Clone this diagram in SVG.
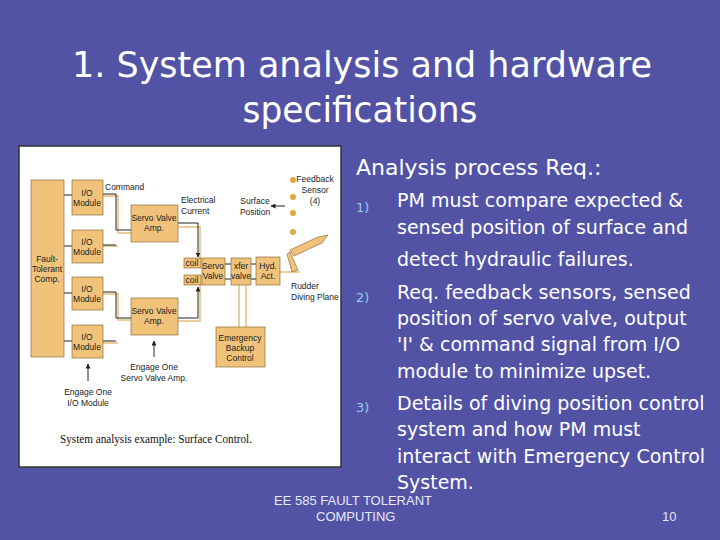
<svg xmlns="http://www.w3.org/2000/svg" width="720" height="540" viewBox="0 0 720 540">
<defs>
<style>
.t{font-family:"DejaVu Sans",Verdana,sans-serif;fill:#fff}
.n{font-family:"DejaVu Sans",sans-serif;fill:#8fd0e8;font-size:13px}
.f{font-family:"Liberation Sans",Arial,sans-serif;fill:#e8e8f8;font-size:13px}
.b{fill:#f0c27a;stroke:#7a5a2a;stroke-width:0.6}
.d{font-family:"Liberation Sans",Arial,sans-serif;font-size:8.5px;fill:#222;text-anchor:middle}
.w{stroke:#222;stroke-width:1;fill:none}
.s{stroke:#e9cf9a;stroke-width:2;fill:none}
</style>
<marker id="ar" viewBox="0 0 10 10" refX="9" refY="5" markerWidth="5" markerHeight="5" orient="auto"><path d="M0,0L10,5L0,10z" fill="#222"/></marker>
</defs>
<rect width="720" height="540" fill="#5353a6"/>
<g id="title" class="t" font-size="36" text-anchor="middle">
<text x="362" y="77" textLength="580" lengthAdjust="spacingAndGlyphs">1. System analysis and hardware</text>
<text x="360" y="122" textLength="235" lengthAdjust="spacingAndGlyphs">specifications</text>
</g>
<g id="figure">
<rect x="19" y="146" width="322" height="321" fill="#fff" stroke="#333" stroke-width="1.5"/>
<g id="connectors">
<path class="s" d="M103,196H118V233H131M103,246H118M103,294H118V320H131M103,343H118M178,227H200V258M178,321H200V285M280,272H300"/>
<path class="w" d="M103,194H116V230H131M103,245H116M103,292H116V318H131M103,341H116M64,195H72M64,246H72M64,293H72M64,341H72"/>
<path class="w" d="M178,223H198V257" marker-end="url(#ar)"/>
<path class="w" d="M178,318H198V287" marker-end="url(#ar)"/>
<path class="w" d="M225,264H231M225,279H231M251,264H256M251,279H256"/>
<path class="s" d="M239,285V327M246,285V327"/>
<path class="w" d="M285,206H271" marker-end="url(#ar)"/>
<path class="w" d="M154,357V341" marker-end="url(#ar)"/>
<path class="w" d="M88,381V364" marker-end="url(#ar)"/>
</g>
<g id="ftc"><rect class="b" x="31" y="180" width="33" height="177"/><text class="d" x="47" y="262">Fault-</text><text class="d" x="47" y="272">Tolerant</text><text class="d" x="47" y="282">Comp.</text></g>
<g id="io1"><rect class="b" x="72" y="180" width="31" height="35"/><text class="d" x="87" y="196">I/O</text><text class="d" x="87" y="206">Module</text></g>
<g id="io2"><rect class="b" x="72" y="230" width="31" height="33"/><text class="d" x="87" y="245">I/O</text><text class="d" x="87" y="255">Module</text></g>
<g id="io3"><rect class="b" x="72" y="277" width="31" height="33"/><text class="d" x="87" y="292">I/O</text><text class="d" x="87" y="302">Module</text></g>
<g id="io4"><rect class="b" x="72" y="325" width="31" height="33"/><text class="d" x="87" y="340">I/O</text><text class="d" x="87" y="350">Module</text></g>
<g id="sva1"><rect class="b" x="131" y="205" width="47" height="37"/><text class="d" x="154" y="221">Servo Valve</text><text class="d" x="154" y="231">Amp.</text></g>
<g id="sva2"><rect class="b" x="131" y="298" width="47" height="37"/><text class="d" x="154" y="314">Servo Valve</text><text class="d" x="154" y="324">Amp.</text></g>
<g id="coil1"><rect class="b" x="184" y="258" width="17" height="10"/><text class="d" x="192" y="266">coil</text></g>
<g id="coil2"><rect class="b" x="184" y="275" width="17" height="10"/><text class="d" x="192" y="283">coil</text></g>
<g id="sv"><rect class="b" x="202" y="258" width="23" height="27"/><text class="d" x="213" y="269">Servo</text><text class="d" x="213" y="279">Valve</text></g>
<g id="xfer"><rect class="b" x="231" y="258" width="20" height="27"/><text class="d" x="241" y="269">xfer</text><text class="d" x="241" y="279">valve</text></g>
<g id="hyd"><rect class="b" x="256" y="257" width="24" height="28"/><text class="d" x="268" y="269">Hyd.</text><text class="d" x="268" y="279">Act.</text></g>
<g id="ebc"><rect class="b" x="216" y="327" width="49" height="40"/><text class="d" x="240" y="341">Emergency</text><text class="d" x="240" y="351">Backup</text><text class="d" x="240" y="361">Control</text></g>
<g id="sensors" fill="#e0a840"><circle cx="293" cy="180" r="3"/><circle cx="293" cy="197" r="3"/><circle cx="293" cy="213" r="3"/><circle cx="293" cy="232" r="3"/></g>
<g id="rudder"><path d="M290,250L318,237L328,235L322,243L294,256Z" fill="#f0c27a" stroke="#7a5a2a" stroke-width="0.6"/><path d="M290,252L298,270L292,272L287,254Z" fill="#f0c27a" stroke="#7a5a2a" stroke-width="0.6"/></g>
<g id="labels" class="d">
<text x="105" y="190" text-anchor="start">Command</text>
<text x="181" y="203" text-anchor="start">Electrical</text><text x="181" y="214" text-anchor="start">Current</text>
<text x="255" y="204">Surface</text><text x="255" y="215">Position</text>
<text x="315" y="182">Feedback</text><text x="315" y="193">Sensor</text><text x="315" y="204">(4)</text>
<text x="291" y="289" text-anchor="start">Rudder</text><text x="291" y="300" text-anchor="start">Diving Plane</text>
<text x="154" y="370">Engage One</text><text x="154" y="381">Servo Valve Amp.</text>
<text x="88" y="395">Engage One</text><text x="88" y="406">I/O Module</text>
</g>
<text x="60" y="443" font-family="Liberation Serif,serif" font-size="12" fill="#111" textLength="192" lengthAdjust="spacingAndGlyphs">System analysis example: Surface Control.</text>
</g>
<g id="body">
<text class="t" x="356" y="175" font-size="22">Analysis process Req.:</text>
<text class="n" x="356" y="212">1)</text><text class="n" x="356" y="302">2)</text><text class="n" x="356" y="412">3)</text>
<g class="t" font-size="19">
<text x="397" y="207">PM must compare expected &amp;</text>
<text x="397" y="234">sensed position of surface and</text>
<text x="397" y="266">detect hydraulic failures.</text>
<text x="397" y="299">Req. feedback sensors, sensed</text>
<text x="397" y="325">position of servo valve, output</text>
<text x="397" y="351">'I' &amp; command signal from I/O</text>
<text x="397" y="378">module to minimize upset.</text>
<text x="397" y="410">Details of diving position control</text>
<text x="397" y="436">system and how PM must</text>
<text x="397" y="463">interact with Emergency Control</text>
<text x="397" y="489">System.</text>
</g>
</g>
<g id="footer">
<text class="f" x="274" y="505">EE 585 FAULT TOLERANT</text>
<text class="f" x="316" y="521">COMPUTING</text>
<text class="f" x="662" y="521">10</text>
</g>
</svg>
